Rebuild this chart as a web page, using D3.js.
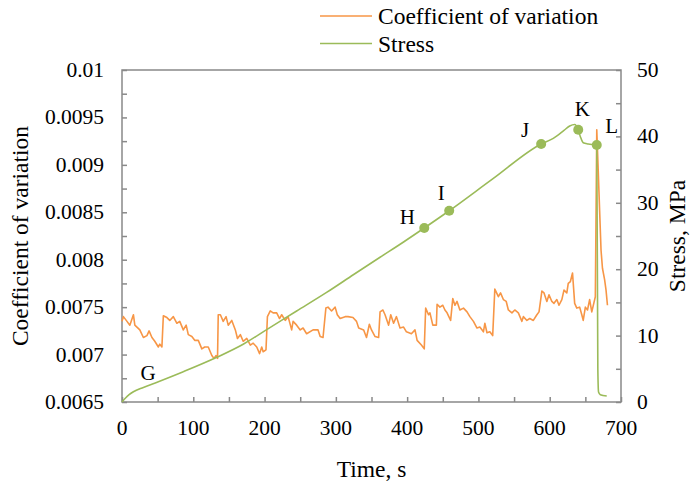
<!DOCTYPE html>
<html>
<head>
<meta charset="utf-8">
<script src="https://cdn.jsdelivr.net/npm/d3@7/dist/d3.min.js"></script>
<style>
  html, body { margin: 0; padding: 0; background: #fff; }
  svg { display: block; }
  text { font-family: "Liberation Serif", "Times New Roman", Times, "DejaVu Serif", serif; fill: #000; }
</style>
</head>
<body>
<svg id="chart" width="700" height="485"></svg>
<script>
// ---- data ----
const cvTime = [0,2,7,11,16,18,25,30,35,38,42,46,51,53,56,58,63,67,72,77,81,86,90,93,98,102,107,112,116,121,126,129,132,134,135,138,142,146,149,154,159,162,166,170,175,180,184,189,193,196,198,202,204,208,212,217,221,224,229,233,238,240,245,250,254,259,268,275,278,282,286,289,294,299,302,306,313,317,324,329,332,339,343,347,350,355,360,362,366,369,374,377,381,385,390,395,399,406,411,414,420,424,426,430,432,436,441,442,446,450,453,456,461,464,467,470,474,479,484,488,493,498,502,507,509,512,516,520,523,528,531,535,539,542,547,551,556,561,563,568,572,577,582,585,589,592,596,599,603,606,610,613,617,620,624,626,629,632,635,638,642,645,647,650,653,656,659,664,666,668,670,672,674,677,679,681];
const cvValue = [0.00735,0.0074,0.00735,0.00731,0.00742,0.00731,0.00726,0.00718,0.0072,0.00725,0.00718,0.00714,0.00708,0.00711,0.00708,0.00741,0.00739,0.00736,0.0074,0.00733,0.00735,0.00726,0.00731,0.00721,0.00719,0.00715,0.00715,0.00706,0.00708,0.00708,0.00699,0.00696,0.00699,0.00696,0.00742,0.00742,0.00735,0.0074,0.00731,0.00736,0.00726,0.00717,0.00721,0.00714,0.00717,0.0071,0.00712,0.00708,0.00701,0.00708,0.00703,0.00705,0.0074,0.00746,0.00744,0.00744,0.00738,0.00742,0.00736,0.0074,0.00726,0.00735,0.00731,0.00726,0.00728,0.00722,0.00726,0.00726,0.00719,0.00718,0.00749,0.0075,0.00746,0.0075,0.00742,0.00738,0.0074,0.0074,0.00739,0.00735,0.00728,0.00726,0.00718,0.00732,0.00726,0.00719,0.00718,0.00745,0.00747,0.00742,0.00731,0.00742,0.00733,0.0074,0.00728,0.00729,0.00724,0.00722,0.00726,0.00715,0.0071,0.00706,0.00749,0.00742,0.00744,0.00731,0.00731,0.00753,0.0075,0.00752,0.00747,0.00744,0.00736,0.00759,0.00752,0.00756,0.00747,0.00749,0.00745,0.0074,0.00735,0.00728,0.00729,0.00724,0.00733,0.00723,0.00724,0.0072,0.00769,0.00761,0.00765,0.00758,0.00756,0.00747,0.00744,0.00747,0.00744,0.00735,0.0074,0.00736,0.00738,0.00736,0.00742,0.00745,0.00767,0.00765,0.00756,0.00763,0.00756,0.00754,0.00758,0.00752,0.00758,0.00768,0.00765,0.00775,0.00777,0.00786,0.00754,0.00749,0.0075,0.00742,0.00736,0.0075,0.00747,0.00758,0.00745,0.00761,0.00937,0.00895,0.00852,0.0081,0.00791,0.00779,0.00768,0.00752];

const stressTime  = [0,5,10,16,30,51,86,133,170,203,245,287,325,362,395,424,459,520,588,605,620,628,635,640,643,647,654,666,667.5,668.5,671,680];
const stressValue = [0,0.6,1.1,1.55,2.2,3.06,4.56,6.73,8.7,10.9,13.7,16.5,19.2,21.8,24.1,26.2,28.8,33.6,38.86,39.7,40.9,41.57,41.8,41.0,39.96,39.05,38.86,38.7,5,1.5,1.1,0.9];

const annoLabel  = ["G","H","I","J","K","L"];
const annoTime   = [0,424,459,588,640,666];
const annoStress = [0,26.2,28.8,38.86,41.0,38.7];
const annoMarker = [false,true,true,true,true,true];

const xTicks = [0,100,200,300,400,500,600,700];
const leftTicks = [0.0065,0.007,0.0075,0.008,0.0085,0.009,0.0095,0.01];
const leftTickLabels = ["0.0065","0.007","0.0075","0.008","0.0085","0.009","0.0095","0.01"];
const rightTicks = [0,10,20,30,40,50];
const seriesNames = ["Coefficient of variation","Stress"];

// ---- layout ----
const W = 700, H = 485;
const M = {left: 122, top: 70, right: 79, bottom: 83};
const iw = W - M.left - M.right, ih = H - M.top - M.bottom;
const orange = "#F79646", green = "#9BBB59", axisCol = "#898989";
const FONT = '"Liberation Serif", "Times New Roman", Times, "DejaVu Serif", serif';

const svg = d3.select("#chart").attr("font-family", FONT);
const g = svg.append("g").attr("transform", `translate(${M.left},${M.top})`);

const x = d3.scaleLinear().domain([0,700]).range([0,iw]);
const yL = d3.scaleLinear().domain([0.0065,0.01]).range([ih,0]);
const yR = d3.scaleLinear().domain([0,50]).range([ih,0]);

// plot frame
g.append("rect").attr("x",0).attr("y",0).attr("width",iw).attr("height",ih)
  .attr("fill","none").attr("stroke",axisCol).attr("stroke-width",1.5);

// axes (ticks inward)
const fs = 21.5;
const xAx = g.append("g").attr("transform",`translate(0,${ih})`)
  .call(d3.axisBottom(x).tickValues(d3.range(0,701,50)).tickSize(-5).tickFormat(""));
const lAx = g.append("g")
  .call(d3.axisLeft(yL).tickValues(d3.range(0,15).map(i=>0.0065+i*0.00025)).tickSize(-5).tickFormat(""));
const rAx = g.append("g").attr("transform",`translate(${iw},0)`)
  .call(d3.axisRight(yR).tickValues(d3.range(0,51,5)).tickSize(-5).tickFormat(""));
[xAx,lAx,rAx].forEach(a=>{
  a.select(".domain").remove();
  a.selectAll("line").attr("stroke",axisCol).attr("stroke-width",1.5);
});

function txt(sel){ return sel.attr("font-family", FONT).attr("fill","#000"); }

// tick labels
txt(g.selectAll(".xl").data(xTicks).enter().append("text"))
  .attr("x",d=>x(d)).attr("y",ih+26).attr("text-anchor","middle")
  .attr("dominant-baseline","central").attr("font-size",fs).text(d=>d);
txt(g.selectAll(".ll").data(leftTicks).enter().append("text"))
  .attr("x",-18).attr("y",d=>yL(d)).attr("text-anchor","end")
  .attr("dominant-baseline","central").attr("font-size",fs).text((d,i)=>leftTickLabels[i]);
txt(g.selectAll(".rl").data(rightTicks).enter().append("text"))
  .attr("x",iw+16).attr("y",d=>yR(d)).attr("text-anchor","start")
  .attr("dominant-baseline","central").attr("font-size",fs).text(d=>d);

// axis titles
const tfs = 23.5;
txt(svg.append("text")).attr("x", M.left+iw/2).attr("y", 469).attr("text-anchor","middle")
  .attr("dominant-baseline","central").attr("font-size",tfs).text("Time, s");
txt(svg.append("text")).attr("transform",`translate(20,${M.top+ih/2}) rotate(-90)`)
  .attr("text-anchor","middle").attr("dominant-baseline","central").attr("font-size",tfs)
  .text("Coefficient of variation");
txt(svg.append("text")).attr("transform",`translate(677,${M.top+ih/2}) rotate(-90)`)
  .attr("text-anchor","middle").attr("dominant-baseline","central").attr("font-size",tfs)
  .text("Stress, MPa");

// lines
const cvData = cvTime.map((t,i)=>({t, v: cvValue[i]}));
const stData = stressTime.map((t,i)=>({t, v: stressValue[i]}));
g.append("path").datum(cvData).attr("fill","none").attr("stroke",orange).attr("stroke-width",1.6)
  .attr("stroke-linejoin","round")
  .attr("d", d3.line().x(d=>x(d.t)).y(d=>yL(d.v)));
g.append("path").datum(stData).attr("fill","none").attr("stroke",green).attr("stroke-width",1.6)
  .attr("stroke-linejoin","round")
  .attr("d", d3.line().curve(d3.curveMonotoneX).x(d=>x(d.t)).y(d=>yR(d.v)));

// annotations
const annoOff = {G:[26,-29],H:[-17,-11],I:[-8,-18],J:[-16,-14],K:[4,-21],L:[15,-19]};
const anno = annoLabel.map((l,i)=>({l, t: annoTime[i], s: annoStress[i], m: annoMarker[i]}));
g.selectAll(".mk").data(anno.filter(d=>d.m)).enter().append("circle")
  .attr("cx",d=>x(d.t)).attr("cy",d=>yR(d.s)).attr("r",5).attr("fill",green);
txt(g.selectAll(".al").data(anno).enter().append("text"))
  .attr("x",d=>x(d.t)+annoOff[d.l][0]).attr("y",d=>yR(d.s)+annoOff[d.l][1])
  .attr("text-anchor","middle").attr("dominant-baseline","central").attr("font-size",21)
  .text(d=>d.l);

// legend
const lg = svg.append("g");
[orange, green].forEach((c,i)=>{
  const yy = 16 + i*27.5;
  lg.append("line").attr("x1",320).attr("x2",372).attr("y1",yy).attr("y2",yy)
    .attr("stroke",c).attr("stroke-width",1.6);
  txt(lg.append("text")).attr("x",378).attr("y",yy).attr("dominant-baseline","central")
    .attr("font-size",tfs).text(seriesNames[i]);
});
</script>
</body>
</html>
